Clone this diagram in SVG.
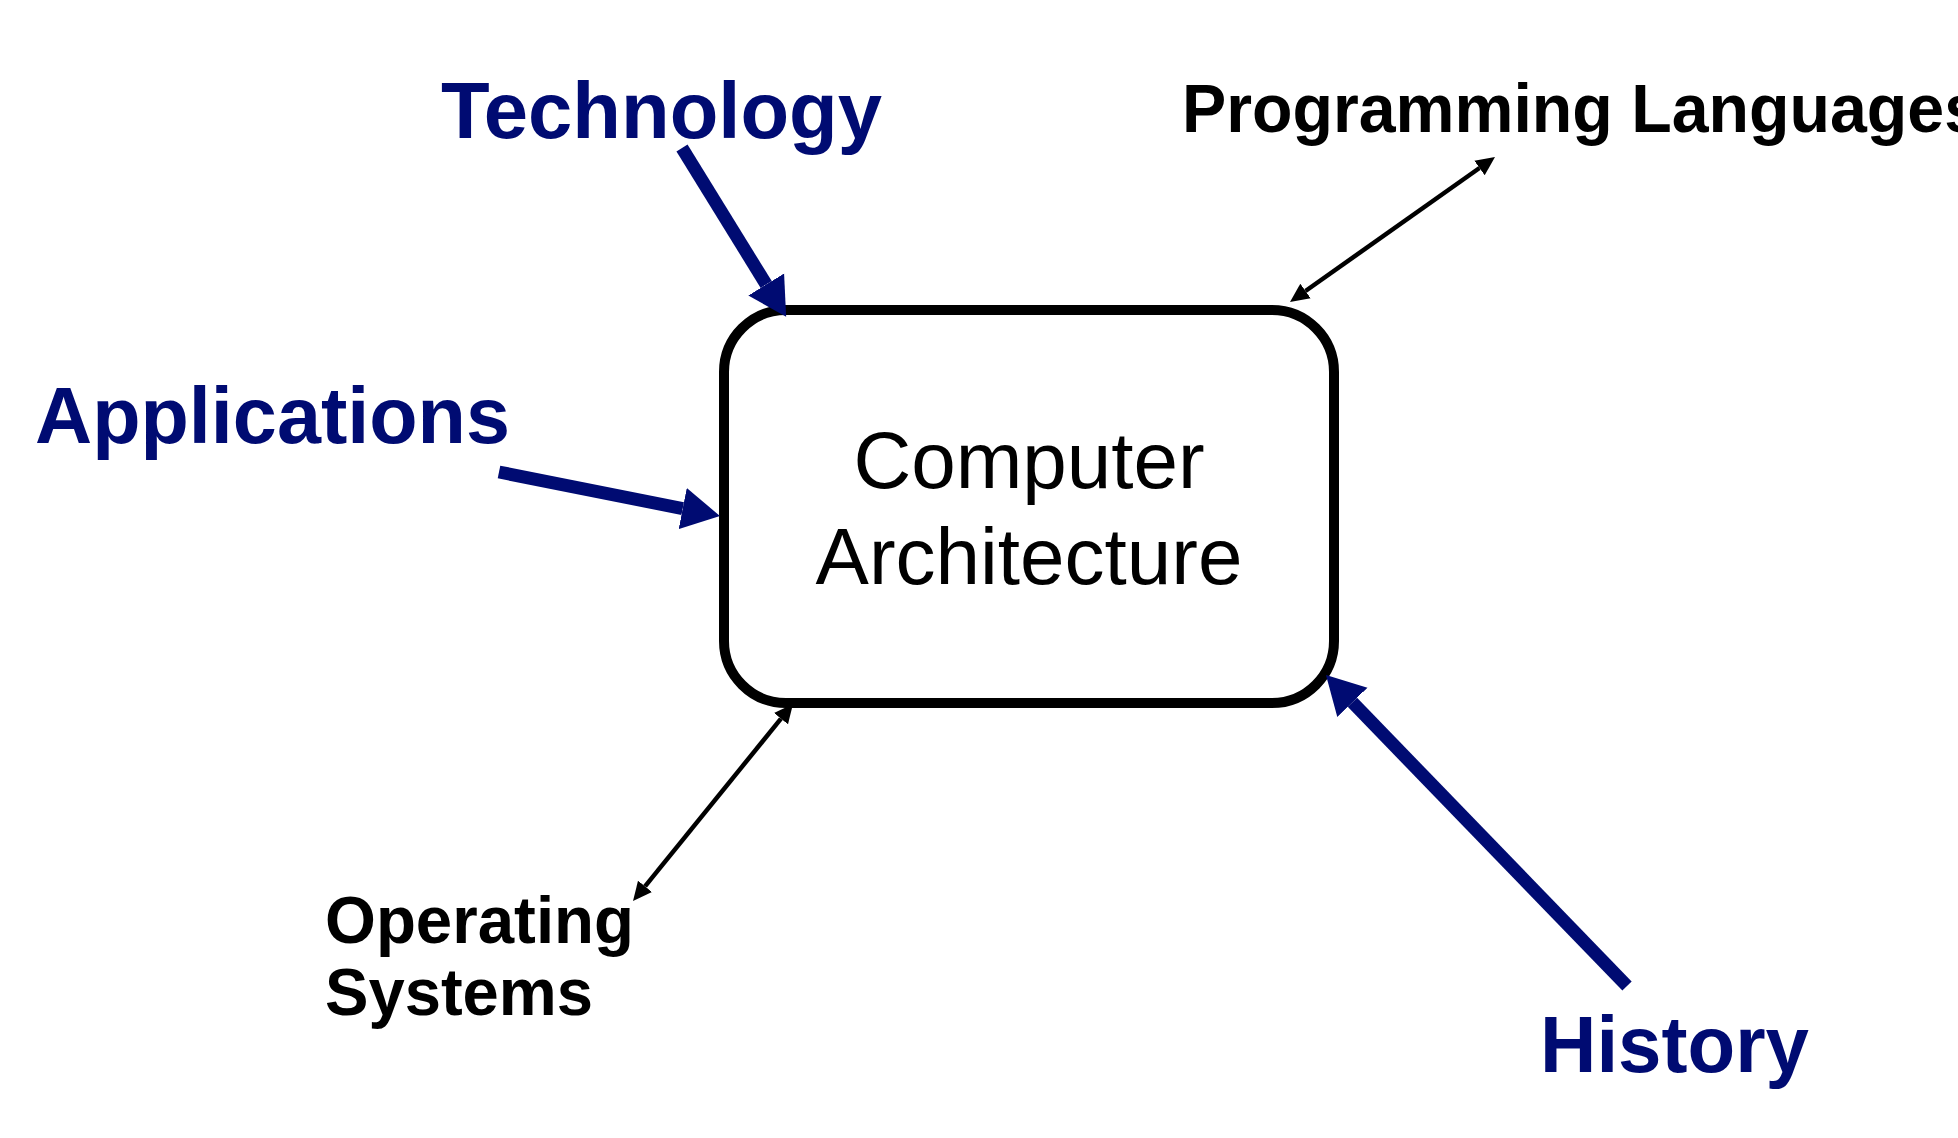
<svg xmlns="http://www.w3.org/2000/svg" width="1958" height="1138" viewBox="0 0 1958 1138">
  <style>
    .lbl { font-family: "Liberation Sans", Arial, Helvetica, sans-serif; font-weight: bold; }
    .blue { fill: #000b72; font-size: 80px; }
    .blk { fill: #000000; }
    .center { font-family: "Liberation Sans", Arial, Helvetica, sans-serif; font-size: 80px; fill: #000; text-anchor: middle; }
    .thick { stroke: #000b72; stroke-width: 13; fill: none; }
    .thin { stroke: #000; stroke-width: 4.5; fill: none; }
  </style>
  <defs>
    <marker id="headBlue" markerUnits="userSpaceOnUse" markerWidth="40" markerHeight="44" viewBox="0 -22 40 44" refX="0" refY="0" orient="auto">
      <path d="M0,-21 L38,0 L0,21 Z" fill="#000b72"/>
    </marker>
    <marker id="headBlack" markerUnits="userSpaceOnUse" markerWidth="20" markerHeight="20" viewBox="0 -10 20 20" refX="0" refY="0" orient="auto-start-reverse">
      <path d="M0,-9 L19,0 L0,9 Z" fill="#000"/>
    </marker>
  </defs>
  <rect width="1958" height="1138" fill="#fff"/>

  <g id="computer-architecture">
    <rect x="724" y="310" width="610" height="393" rx="62" ry="62" fill="#fff" stroke="#000" stroke-width="10"/>
    <text class="center" x="1029" y="488">Computer</text>
    <text class="center" x="1029" y="584">Architecture</text>
  </g>

  <g id="technology">
    <text class="lbl blue" x="441" y="138" textLength="441" lengthAdjust="spacingAndGlyphs">Technology</text>
  </g>
  <g id="applications">
    <text class="lbl blue" x="35" y="443" textLength="475" lengthAdjust="spacingAndGlyphs">Applications</text>
  </g>
  <g id="history">
    <text class="lbl blue" x="1540" y="1072" textLength="269" lengthAdjust="spacingAndGlyphs">History</text>
  </g>
  <g id="programming-languages">
    <text class="lbl blk" x="1182" y="132" font-size="68" textLength="799" lengthAdjust="spacingAndGlyphs">Programming Languages</text>
  </g>
  <g id="operating-systems">
    <text class="lbl blk" x="325" y="943" font-size="66" textLength="309" lengthAdjust="spacingAndGlyphs">Operating</text>
    <text class="lbl blk" x="325" y="1015" font-size="66" textLength="268" lengthAdjust="spacingAndGlyphs">Systems</text>
  </g>

  <g id="connectors">
    <line class="thick" x1="682" y1="148" x2="766.2" y2="284.5" marker-end="url(#headBlue)"/>
    <line class="thick" x1="499" y1="472" x2="682.7" y2="508.6" marker-end="url(#headBlue)"/>
    <line class="thick" x1="1627" y1="986" x2="1352.4" y2="702.3" marker-end="url(#headBlue)"/>
    <line class="thin" x1="1305.5" y1="291" x2="1479.5" y2="168" marker-start="url(#headBlack)" marker-end="url(#headBlack)"/>
    <line class="thin" x1="645" y1="886.3" x2="781" y2="718.7" marker-start="url(#headBlack)" marker-end="url(#headBlack)"/>
  </g>
</svg>
